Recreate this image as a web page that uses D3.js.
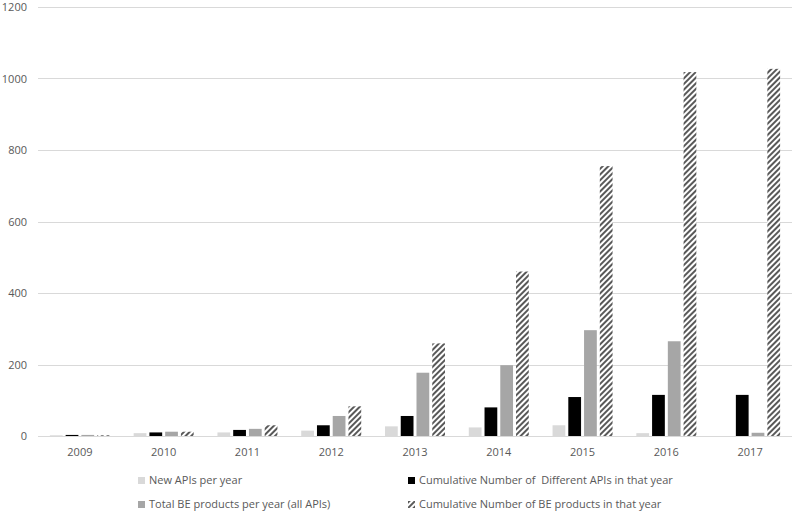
<!DOCTYPE html>
<html>
<head>
    <title>APIs and BE products per year</title>
    <script src="https://d3js.org/d3.v7.min.js"></script>
    <style>
        body { margin: 0; background: #fff; }
        svg { font-family: "Open Sans", "Noto Sans", sans-serif; }
        text { white-space: pre; }
    </style>
</head>
<body>
<svg id="chart" width="800" height="511"></svg>
<script>
    // Data
    var years = ['2009', '2010', '2011', '2012', '2013', '2014', '2015', '2016', '2017'];
    var newApis = [2, 8, 10, 15, 27, 24, 30, 8, 0];
    var cumulativeApis = [3, 10, 17, 30, 56, 80, 109, 115, 115];
    var totalProducts = [3, 12, 20, 56, 177, 198, 296, 265, 9];
    var cumulativeProducts = [2, 12, 30, 83, 259, 460, 755, 1018, 1027];
    var yTicks = [0, 200, 400, 600, 800, 1000, 1200];

    var seriesNames = [
        'New APIs per year',
        'Cumulative Number of  Different APIs in that year',
        'Total BE products per year (all APIs)',
        'Cumulative Number of BE products in that year'
    ];
    var seriesValues = [newApis, cumulativeApis, totalProducts, cumulativeProducts];
    var fills = ['#d9d9d9', '#000000', '#a6a6a6', 'url(#hatch)'];

    var svg = d3.select('#chart');

    // Diagonal hatch pattern
    var pattern = svg.append('defs').append('pattern')
        .attr('id', 'hatch')
        .attr('patternUnits', 'userSpaceOnUse')
        .attr('width', 4)
        .attr('height', 4)
        .attr('patternTransform', 'rotate(45)');
    pattern.append('rect').attr('width', 4).attr('height', 4).attr('fill', '#fff');
    pattern.append('rect').attr('width', 2).attr('height', 4).attr('fill', '#595959');

    var plotLeft = 38, plotRight = 792, plotTop = 7, plotBottom = 436;

    var x0 = d3.scaleBand().domain(years).range([plotLeft, plotRight]);
    var x1 = d3.scaleBand().domain(d3.range(4)).range([0, 60]).paddingInner(0.19);
    var y = d3.scaleLinear().domain([0, 1200]).range([plotBottom, plotTop]);

    // Gridlines
    svg.append('g').selectAll('line')
        .data(yTicks)
        .enter().append('line')
        .attr('x1', plotLeft).attr('x2', plotRight)
        .attr('y1', function(d) { return Math.round(y(d)) + 0.5; })
        .attr('y2', function(d) { return Math.round(y(d)) + 0.5; })
        .attr('stroke', '#d9d9d9')
        .attr('stroke-width', 1);

    // Y tick labels
    svg.append('g').selectAll('text')
        .data(yTicks)
        .enter().append('text')
        .attr('x', 27)
        .attr('y', function(d) { return y(d) + 4; })
        .attr('text-anchor', 'end')
        .attr('font-size', 11)
        .attr('fill', '#595959')
        .text(function(d) { return d; });

    // Bars
    var groups = svg.append('g').selectAll('g')
        .data(years)
        .enter().append('g')
        .attr('transform', function(d) {
            return 'translate(' + (x0(d) + (x0.bandwidth() - 60) / 2) + ',0)';
        });

    groups.selectAll('rect')
        .data(function(d, i) {
            return seriesValues.map(function(vals, s) { return {s: s, v: vals[i]}; });
        })
        .enter().append('rect')
        .attr('x', function(d) { return x1(d.s); })
        .attr('width', x1.bandwidth())
        .attr('y', function(d) { return y(d.v); })
        .attr('height', function(d) { return plotBottom - y(d.v); })
        .attr('fill', function(d) { return fills[d.s]; });

    // X axis labels
    svg.append('g').selectAll('text')
        .data(years)
        .enter().append('text')
        .attr('x', function(d) { return x0(d) + x0.bandwidth() / 2; })
        .attr('y', 456)
        .attr('text-anchor', 'middle')
        .attr('font-size', 11)
        .attr('fill', '#595959')
        .text(function(d) { return d; });

    // Legend
    var legendPos = [[138, 477], [408, 477], [138, 501], [408, 501]];
    var legend = svg.append('g').selectAll('g')
        .data(seriesNames)
        .enter().append('g')
        .attr('transform', function(d, i) {
            return 'translate(' + legendPos[i][0] + ',' + legendPos[i][1] + ')';
        });
    legend.append('rect')
        .attr('width', 7).attr('height', 7)
        .attr('fill', function(d, i) { return fills[i]; });
    legend.append('text')
        .attr('x', 11)
        .attr('y', 7)
        .attr('font-size', 11)
        .attr('fill', '#595959')
        .text(function(d) { return d; });
</script>
</body>
</html>
